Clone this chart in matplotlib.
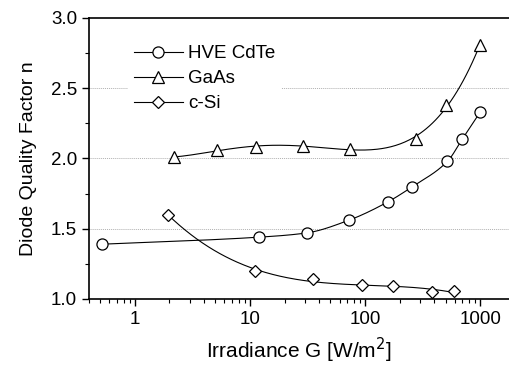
import numpy as np
import matplotlib
matplotlib.use('Agg')
import matplotlib.pyplot as plt

plt.rcParams['font.family'] = ['Liberation Sans', 'DejaVu Sans']

# Data
cdte_g = [0.52, 12, 31, 72, 157, 258, 520, 702, 1000]
cdte_n = [1.39, 1.44, 1.47, 1.56, 1.69, 1.80, 1.98, 2.14, 2.33]

gaas_g = [2.2, 5.2, 11.2, 29, 74, 277, 506, 1000]
gaas_n = [2.01, 2.06, 2.08, 2.09, 2.07, 2.14, 2.38, 2.81]

csi_g = [1.95, 11, 35, 94, 174, 383, 587]
csi_n = [1.60, 1.20, 1.14, 1.10, 1.09, 1.05, 1.06]


def smooth(g, n, deg):
    # polynomial fit in log(G), drawn as a smooth guide line
    lx = np.log10(g)
    p = np.polyfit(lx, n, deg)
    xs = np.linspace(lx[0], lx[-1], 200)
    return 10 ** xs, np.polyval(p, xs)


def pchip(g, n):
    # monotone cubic through the points (Fritsch-Carlson)
    x = np.log10(g)
    y = np.asarray(n, float)
    h = np.diff(x)
    d = np.diff(y) / h
    m = np.zeros_like(y)
    m[0], m[-1] = d[0], d[-1]
    for i in range(1, len(y) - 1):
        if d[i - 1] * d[i] > 0:
            w1 = 2 * h[i] + h[i - 1]
            w2 = h[i] + 2 * h[i - 1]
            m[i] = (w1 + w2) / (w1 / d[i - 1] + w2 / d[i])
    xs_all, ys_all = [], []
    for i in range(len(h)):
        t = np.linspace(0, 1, 40)
        h00 = 2 * t**3 - 3 * t**2 + 1
        h10 = t**3 - 2 * t**2 + t
        h01 = -2 * t**3 + 3 * t**2
        h11 = t**3 - t**2
        ys = h00 * y[i] + h10 * h[i] * m[i] + h01 * y[i + 1] + h11 * h[i] * m[i + 1]
        xs_all.append(x[i] + t * h[i])
        ys_all.append(ys)
    return 10 ** np.concatenate(xs_all), np.concatenate(ys_all)


fig = plt.figure(figsize=(5.09, 3.67), dpi=100)
ax = fig.add_axes([0.1749, 0.1853, 0.8251, 0.7657])

curves = [pchip(cdte_g, cdte_n), smooth(gaas_g, gaas_n, 4), smooth(csi_g, csi_n, 3)]
series = [
    ('HVE CdTe', cdte_g, cdte_n, 'o', 8),
    ('GaAs', gaas_g, gaas_n, '^', 8),
    ('c-Si', csi_g, csi_n, 'D', 6),
]
for (label, g, n, m, ms), (xs, ys) in zip(series, curves):
    ax.plot(xs, ys, color='black', lw=0.8)
    ax.plot(g, n, linestyle='none', marker=m, ms=ms, mfc='white',
            mec='black', mew=0.9)
    ax.plot([], [], color='black', lw=0.8, marker=m, ms=ms, mfc='white',
            mec='black', mew=0.9, label=label)

ax.set_xscale('log')
ax.set_xlim(0.4, 1780)
ax.set_ylim(1.0, 3.0)
ax.set_yticks([1.0, 1.5, 2.0, 2.5, 3.0])
ax.set_yticks([1.25, 1.75, 2.25, 2.75], minor=True)
ax.set_xticks([1, 10, 100, 1000])
ax.set_xticklabels(['1', '10', '100', '1000'])
ax.yaxis.set_major_formatter(matplotlib.ticker.FormatStrFormatter('%.1f'))

for y in [1.5, 2.0, 2.5]:
    ax.axhline(y, color='#b0b0b0', lw=0.7, ls=(0, (1, 1)), zorder=0)

ax.spines['right'].set_visible(False)
for s in ['left', 'bottom', 'top']:
    ax.spines[s].set_linewidth(1.2)
ax.tick_params(which='major', direction='out', length=5, width=1,
               labelsize=13.5, top=False, right=False)
ax.tick_params(which='minor', direction='out', length=3, width=0.8,
               top=False, right=False)

ax.set_xlabel('Irradiance G [W/m$^2$]', fontsize=15, labelpad=6)
ax.set_ylabel('Diode Quality Factor n', fontsize=14, labelpad=10)

leg = ax.legend(loc='upper left', bbox_to_anchor=(0.071, 0.957), fontsize=13.5,
                frameon=True, edgecolor='none', facecolor='white',
                framealpha=1, handlelength=2.6, handletextpad=0.3,
                labelspacing=0.42, borderpad=0.3)

fig.savefig('out.png', dpi=100)
